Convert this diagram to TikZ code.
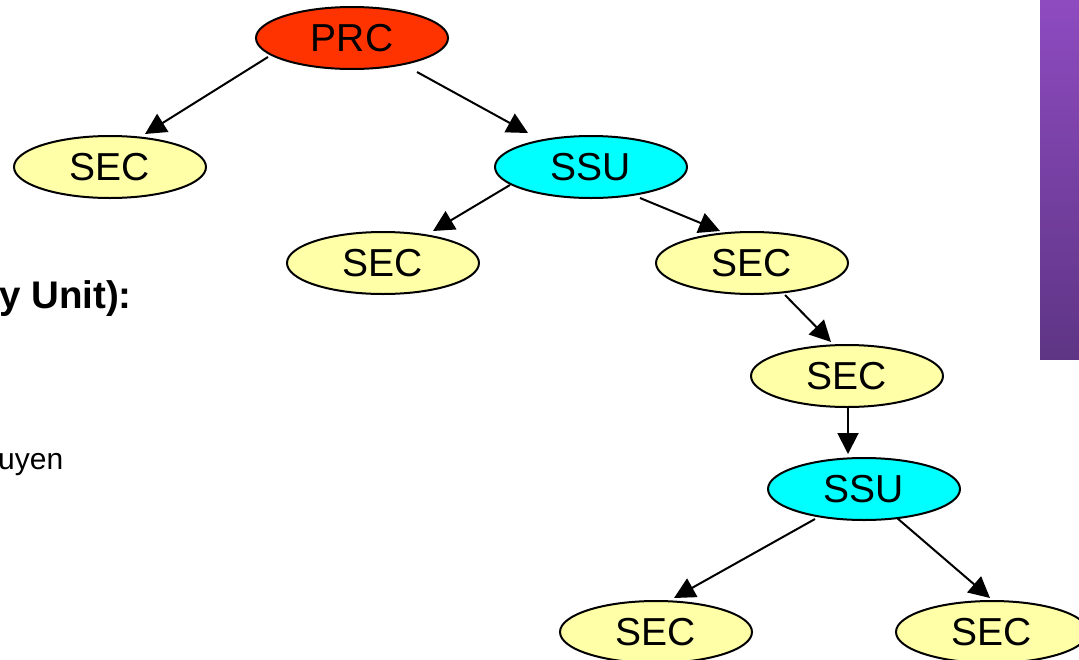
\documentclass[tikz,border=0pt]{standalone}
\usepackage{fontspec}
\setmainfont{Liberation Sans}
\usetikzlibrary{arrows.meta,calc,shapes.geometric}
\definecolor{secfill}{HTML}{FFFFA8}
\definecolor{ssufill}{HTML}{00FFFF}
\definecolor{prcfill}{HTML}{FF3300}
\definecolor{bartop}{HTML}{8E4BC0}
\definecolor{barbot}{HTML}{5E3585}
\tikzset{
  ell/.style={ellipse, draw=black, line width=2pt, minimum width=192pt, minimum height=62pt, inner sep=0pt,
    font=\fontsize{39}{47}\selectfont},
  sec/.style={ell, fill=secfill},
  ssu/.style={ell, fill=ssufill},
  prc/.style={ell, fill=prcfill},
  arr/.style={line width=2pt, -{Triangle[length=21pt,width=21pt]}},
}
\begin{document}
\begin{tikzpicture}[x=1pt,y=-1pt]
\useasboundingbox (0,0) rectangle (1079,659);
\fill[white] (0,0) rectangle (1079,659);
\shade[top color=bartop, bottom color=barbot] (1040,0) rectangle (1079,359);
\node[prc] (PRC) at (352,38) {PRC};
\node[sec] (SEC1) at (110,167) {SEC};
\node[ssu] (SSU1) at (591,167) {SSU};
\node[sec] (SEC2) at (383,263) {SEC};
\node[sec] (SEC3) at (752,263) {SEC};
\node[sec] (SEC4) at (847,376) {SEC};
\node[ssu] (SSU2) at (864,489) {SSU};
\node[sec] (SEC5) at (656,632) {SEC};
\node[sec] (SEC6) at (992,632) {SEC};
\node[anchor=base east, inner sep=0pt, font=\fontsize{38.5}{46}\selectfont\bfseries] (lab1) at (132,308) {y Unit):};
\node[anchor=base west, inner sep=0pt, font=\fontsize{30}{36}\selectfont] (lab2) at (-2,469) {uyen};
\draw[arr] ($(PRC)+(-84,19)$) -- ($(SEC1)+(35,-33)$);
\draw[arr] ($(PRC)+(65,34)$) -- ($(SSU1)+(-63,-34)$);
\draw[arr] ($(SSU1)+(-81,18)$) -- ($(SEC2)+(50,-32)$);
\draw[arr] ($(SSU1)+(49,31)$) -- ($(SEC3)+(-32,-32)$);
\draw[arr] ($(SEC3)+(33,32)$) -- ($(SEC4)+(-16,-34)$);
\draw[arr] ($(SEC4)+(1,31)$) -- ($(SSU2)+(-16,-35)$);
\draw[arr] ($(SSU2)+(-49,30)$) -- ($(SEC5)+(18,-34)$);
\draw[arr] ($(SSU2)+(33,29)$) -- ($(SEC6)+(-2,-34)$);
\end{tikzpicture}
\end{document}
